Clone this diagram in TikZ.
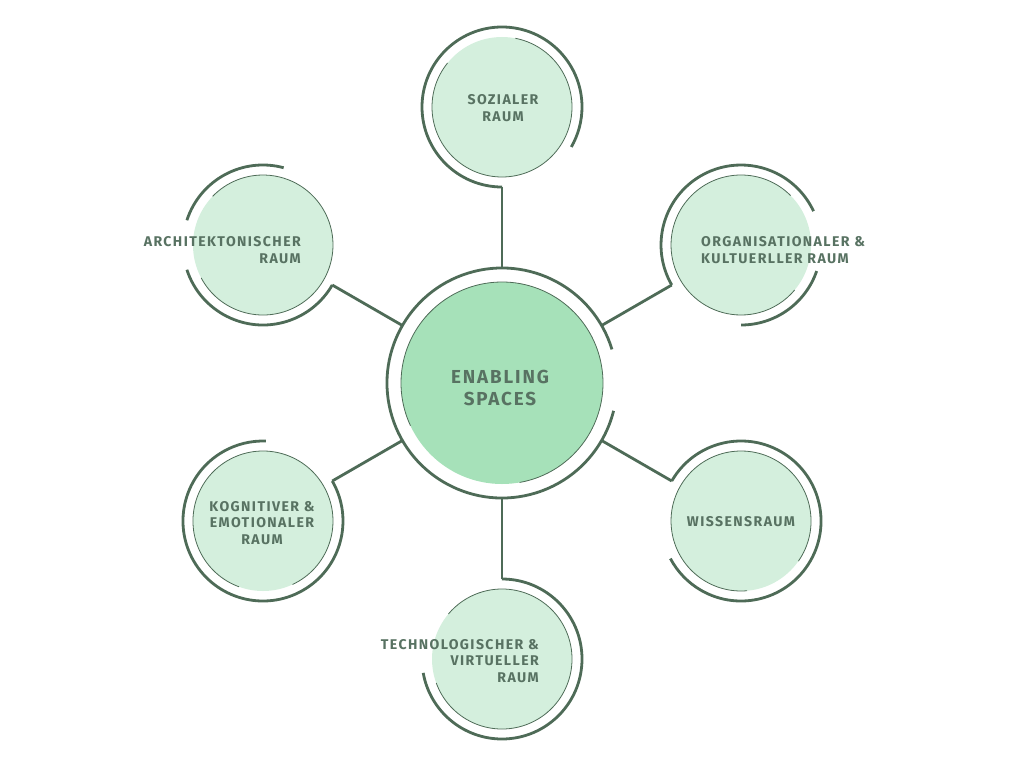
\documentclass[tikz,border=0pt]{standalone}
\usepackage{fontspec}
\setmainfont{Fira Sans}
\newfontfamily\lblfont{Fira Sans}[LetterSpace=10]
\usetikzlibrary{calc}
\definecolor{stroke}{HTML}{4E6B57}
\definecolor{txt}{HTML}{587262}
\definecolor{lightfill}{HTML}{D4EFDD}
\definecolor{centerfill}{HTML}{A6E1B9}
\begin{document}
\begin{tikzpicture}[x=1pt,y=1pt,
  sat/.style={circle, fill=lightfill, minimum size=140pt, inner sep=0pt},
  hub/.style={circle, fill=centerfill, minimum size=202pt, inner sep=0pt},
  ring/.style={draw=stroke, line width=2.8pt},
  rim/.style={draw=stroke, line width=0.8pt},
  link/.style={draw=stroke, line width=2.8pt},
  lbl/.style={text=txt, font=\lblfont\bfseries\fontsize{14.1}{16.4}\selectfont, inner sep=0pt, align=center},
  hubtext/.style={text=txt, font=\lblfont\bfseries\fontsize{18.8}{22.6}\selectfont, inner sep=0pt, align=center},
]
\useasboundingbox (0,0) rectangle (1024,-768);
\coordinate (o) at (502,-383);
\node[hub] (c) at (o) {};
\path (o) ++(90:276)   node[sat] (s1) {};
\path (o) ++(150:276)  node[sat] (s2) {};
\path (o) ++(30:276)   node[sat] (s3) {};
\path (o) ++(-30:276)  node[sat] (s4) {};
\path (o) ++(-150:276) node[sat] (s5) {};
\path (o) ++(-90:276)  node[sat] (s6) {};

% hub
\draw[rim] ($(c.center)+(-80:101)$) arc[start angle=-80, end angle=205, radius=101];
\draw[ring] ($(c.center)+(17:115)$) arc[start angle=17, end angle=346, radius=115];

% s1 sozialer
\draw[rim] ($(s1.center)+(141:70)$) arc[start angle=141, end angle=439, radius=70];
\draw[ring] ($(s1.center)+(270:80)$) arc[start angle=270, end angle=-30, radius=80];
% s2 architektonischer
\draw[rim] ($(s2.center)+(208:70)$) arc[start angle=208, end angle=496, radius=70];
\draw[ring] ($(s2.center)+(75:80)$) arc[start angle=75, end angle=162, radius=80];
\draw[ring] ($(s2.center)+(198:80)$) arc[start angle=198, end angle=330, radius=80];
% s3 organisationaler
\draw[rim] ($(s3.center)+(45:70)$) arc[start angle=45, end angle=320, radius=70];
\draw[ring] ($(s3.center)+(210:80)$) arc[start angle=210, end angle=25, radius=80];
\draw[ring] ($(s3.center)+(-19:80)$) arc[start angle=-19, end angle=-90, radius=80];
% s4 wissensraum
\draw[rim] ($(s4.center)+(-35:70)$) arc[start angle=-35, end angle=275, radius=70];
\draw[ring] ($(s4.center)+(150:80)$) arc[start angle=150, end angle=-152, radius=80];
% s5 kognitiver
\draw[rim] ($(s5.center)+(-65:70)$) arc[start angle=-65, end angle=250, radius=70];
\draw[ring] ($(s5.center)+(30:80)$) arc[start angle=30, end angle=-272, radius=80];
% s6 technologischer
\draw[rim] ($(s6.center)+(200:70)$) arc[start angle=200, end angle=500, radius=70];
\draw[ring] ($(s6.center)+(90:80)$) arc[start angle=90, end angle=-170, radius=80];

% links
\foreach \s in {s1,s2,s3,s4,s5,s6}
  \draw[link] ($(\s.center)!80pt!(c.center)$) -- ($(c.center)!115pt!(\s.center)$);

% texts
\node[hubtext] (tc) at (500,-388) {ENABLING\\SPACES};
\node[lbl] (t1) at (503,-108) {SOZIALER\\RAUM};
\node[lbl, anchor=east, align=right] (t2) at (301,-250) {ARCHITEKTONISCHER\\RAUM};
\node[lbl, anchor=west, align=left] (t3) at (701,-250) {ORGANISATIONALER \&\\KULTUERLLER RAUM};
\node[lbl] (t4) at (741,-522) {WISSENSRAUM};
\node[lbl] (t5) at (262,-523) {KOGNITIVER \&\\EMOTIONALER\\RAUM};
\node[lbl, anchor=east, align=right] (t6) at (539,-661) {TECHNOLOGISCHER \&\\VIRTUELLER\\RAUM};
\end{tikzpicture}
\end{document}
